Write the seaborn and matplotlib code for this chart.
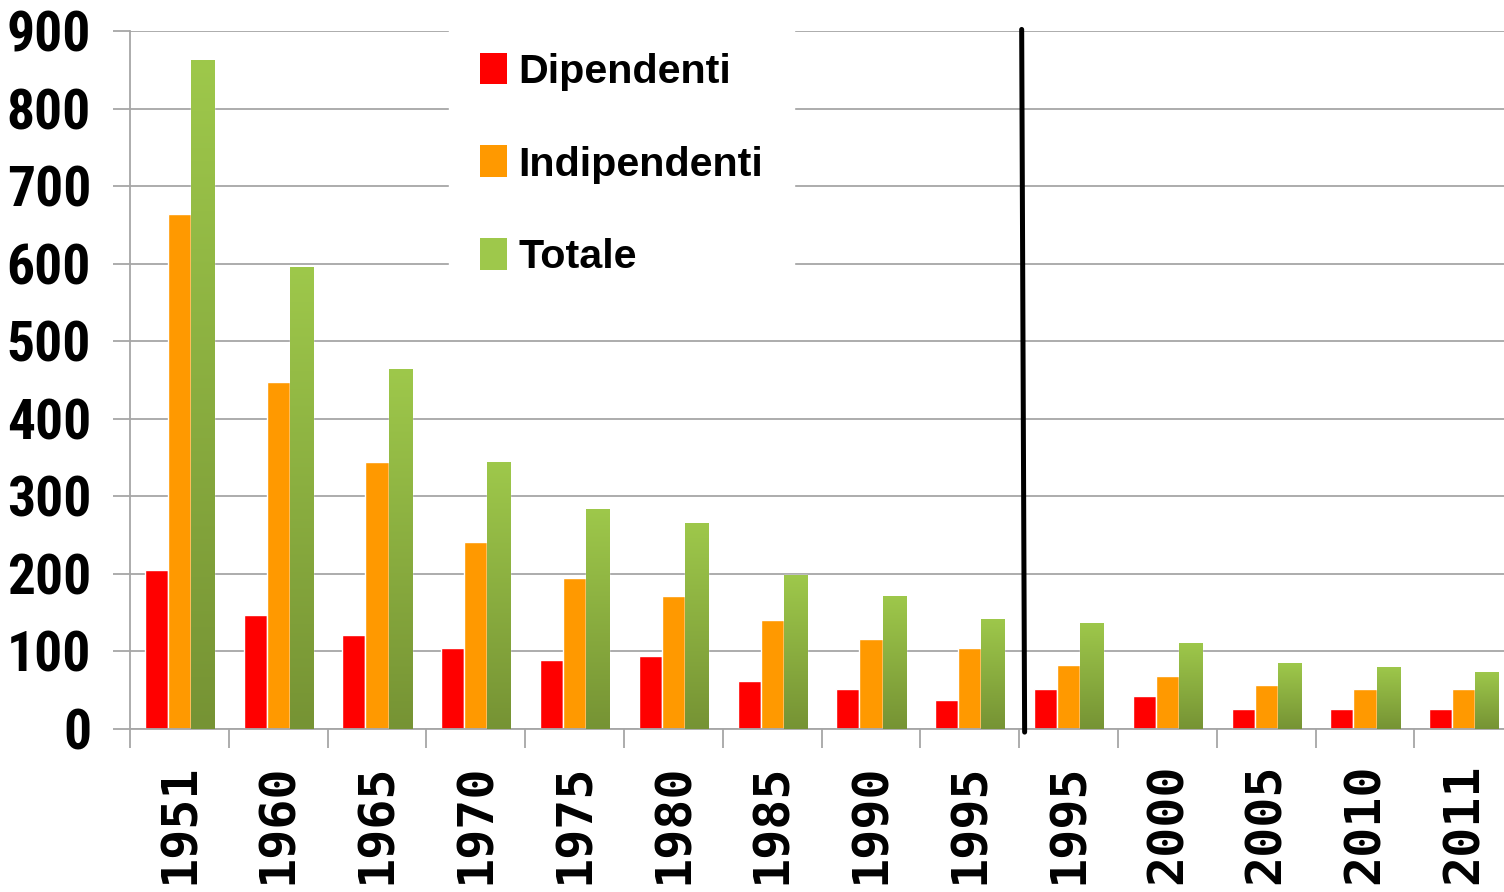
import numpy as np
import pandas as pd
import matplotlib
matplotlib.use("Agg")
import matplotlib.pyplot as plt
import seaborn as sns
from matplotlib import font_manager
from matplotlib.patches import Patch
from matplotlib.colors import LinearSegmentedColormap

# Data
years = ["1951", "1960", "1965", "1970", "1975", "1980", "1985", "1990", "1995",
         "1995", "2000", "2005", "2010", "2011"]
dipendenti = [205, 147, 121, 104, 89, 94, 62, 52, 37, 52, 42, 26, 26, 26]
indipendenti = [664, 447, 344, 241, 195, 171, 141, 116, 104, 83, 68, 57, 52, 52]
totale = [863, 596, 464, 344, 284, 266, 198, 172, 142, 137, 111, 85, 80, 74]
series_names = ["Dipendenti", "Indipendenti", "Totale"]
colors = ["#FF0000", "#FF9900", "#8FB443"]
green_top, green_bottom = "#9EC84B", "#769334"
grid_col = "#A6A6A6"

df = pd.DataFrame({
    "pos": np.arange(len(years)),
    "Dipendenti": dipendenti,
    "Indipendenti": indipendenti,
    "Totale": totale,
})
long_df = df.melt(id_vars="pos", var_name="serie", value_name="valore")

# narrow bold font for the y labels if one is installed
installed = font_manager.fontManager.ttflist
narrow = None
for cand in ["Liberation Sans Narrow", "Roboto Condensed", "Open Sans Condensed"]:
    if any(f.name == cand for f in installed):
        narrow = dict(family=[cand], stretch="normal", size=40)
        break
if narrow is None and any(f.name == "Noto Sans" and "condensed" in str(f.stretch) for f in installed):
    narrow = dict(family=["Noto Sans"], stretch="condensed", size=40)
if narrow is None:
    narrow = dict(family=["Liberation Sans"], stretch="normal", size=34)

sns.set_style("white")
plt.rcParams["text.color"] = "black"
fig = plt.figure(figsize=(15.04, 8.92), dpi=100)
ax = fig.add_axes([130 / 1504, 163 / 892, 1374 / 1504, 698 / 892])
ax.set_axisbelow(True)

sns.barplot(data=long_df, x="pos", y="valore", hue="serie", hue_order=series_names,
            palette=colors, width=0.7, saturation=1, legend=False, ax=ax)

# gradient fill on the green bars
cmap = LinearSegmentedColormap.from_list("verde", [green_bottom, green_top])
grad = np.linspace(0, 1, 256).reshape(-1, 1)
for bar in ax.containers[2]:
    x0, w, h = bar.get_x(), bar.get_width(), bar.get_height()
    im = ax.imshow(grad, extent=[x0, x0 + w, 0, h], origin="lower", aspect="auto",
                   cmap=cmap, zorder=3)
    im.set_clip_path(bar)

ax.set_xlabel("")
ax.set_ylabel("")

# y axis
ax.set_yticks(range(0, 1000, 100))
ax.yaxis.grid(True, color=grid_col, linewidth=1.3)
ax.tick_params(axis="y", length=12, width=1.3, color=grid_col, pad=16, left=True,
               labelcolor="black")
for lab in ax.get_yticklabels():
    lab.set_fontfamily(narrow["family"])
    lab.set_fontstretch(narrow["stretch"])
    lab.set_fontweight("bold")
    lab.set_fontsize(narrow["size"])

# x axis: labels at group centres, ticks at group boundaries
ax.set_xticks(np.arange(len(years)))
ax.set_xticklabels(years, rotation=90, va="top", ha="center")
for lab in ax.get_xticklabels():
    lab.set_fontfamily(["DejaVu Sans Mono"])
    lab.set_fontweight("bold")
    lab.set_fontsize(36)
ax.set_xticks(np.arange(-0.5, len(years), 1), minor=True)
ax.tick_params(axis="x", which="major", length=0, pad=25, labelcolor="black")
ax.tick_params(axis="x", which="minor", length=14, width=1.3, color=grid_col, bottom=True)

for side in ["top", "right"]:
    ax.spines[side].set_visible(False)
for side in ["left", "bottom"]:
    ax.spines[side].set_color(grid_col)
    ax.spines[side].set_linewidth(1.3)

# separator between the two 1995 groups
ax.plot([8.525, 8.555], [902, -4], color="black", linewidth=3.6, clip_on=False, zorder=5)

handles = [Patch(facecolor=c, edgecolor="none") for c in [colors[0], colors[1], green_top]]
leg = fig.legend(handles, series_names, loc="upper left",
                 bbox_to_anchor=(449 / 1504, 1 - 22 / 892), bbox_transform=fig.transFigure,
                 prop={"family": "Liberation Sans", "weight": "bold", "size": 29.7},
                 labelcolor="black",
                 handlelength=0.66, handleheight=0.8, handletextpad=0.27,
                 labelspacing=1.32, borderpad=0.75, borderaxespad=0,
                 frameon=True, fancybox=False, framealpha=1,
                 facecolor="white", edgecolor="white")

ax.set_ylim(0, 900)
ax.set_xlim(-0.5, -0.5 + 1374 / 98.8)
fig.savefig("out.png", dpi=100)
